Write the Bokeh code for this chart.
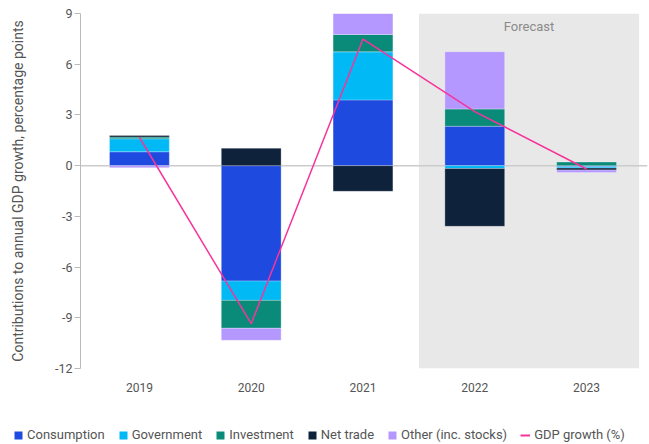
from bokeh.plotting import figure
from bokeh.models import (Range1d, FixedTicker, BoxAnnotation, Span, Legend,
                          LegendItem, ColumnDataSource, Label)
from bokeh.embed import file_html
from bokeh.resources import INLINE

# ---------------- data ----------------
years = ["2019", "2020", "2021", "2022", "2023"]
consumption = [0.82, -6.83, 3.89, 2.33, -0.06]
government = [0.77, -1.14, 2.84, -0.17, -0.08]
investment = [0.10, -1.65, 1.03, 1.02, 0.21]
net_trade = [0.10, 1.03, -1.52, -3.42, -0.12]
other = [-0.12, -0.71, 1.24, 3.39, -0.15]
gdp_growth = [1.68, -9.35, 7.49, 3.20, -0.20]

series_names = ["Consumption", "Government", "Investment", "Net trade", "Other (inc. stocks)"]
series_colors = ["#1f4ae0", "#00b9f5", "#0a8b79", "#0e233b", "#b598ff"]
gdp_name = "GDP growth (%)"
gdp_color = "#f7339c"

y_ticks = [-12, -9, -6, -3, 0, 3, 6, 9]
y_tick_labels = ["-12", "-9", "-6", "-3", "0", "3", "6", "9"]
forecast_years = ["2022", "2023"]
forecast_label = "Forecast"
y_label = "Contributions to annual GDP growth, percentage points"

# ---------------- figure ----------------
FONT = "Roboto"
TXT = "#555555"

p = figure(width=649, height=400, output_backend="svg", toolbar_location=None,
           x_range=Range1d(-0.527, 4.545), y_range=Range1d(-12, 9),
           min_border_left=80, min_border_right=2, min_border_top=13,
           min_border_bottom=32)
p.outline_line_color = None
p.xgrid.visible = False
p.ygrid.visible = False
p.background_fill_color = "white"

xs = list(range(len(years)))

# forecast shading
fl = years.index(forecast_years[0]) - 0.5
fr = years.index(forecast_years[-1]) + 0.47
box = BoxAnnotation(left=fl, right=fr, fill_color="#e8e8e8", fill_alpha=1.0,
                    line_color=None, level="underlay")
p.add_layout(box)
zero = Span(location=0, dimension="width", line_color="#cccccc", line_width=1.5,
            level="underlay")
p.add_layout(zero)

p.add_layout(Label(x=(fl + fr) / 2, y=y_ticks[-1], y_offset=-13, text=forecast_label,
                   text_align="center", text_baseline="middle",
                   text_font=FONT, text_font_size="13px", text_color="#8a8a8a"))

# stacked bars
pos = [0.0] * len(years)
neg = [0.0] * len(years)
bar_kw = dict(line_color="white", line_alpha=0.35, line_width=0.8)
sources = []
for name, color, vals in zip(series_names, series_colors,
                             [consumption, government, investment, net_trade, other]):
    bottoms, tops = [], []
    for i, v in enumerate(vals):
        if v >= 0:
            bottoms.append(pos[i]); tops.append(pos[i] + v); pos[i] += v
        else:
            bottoms.append(neg[i]); tops.append(neg[i] + v); neg[i] += v
    src = ColumnDataSource(dict(x=xs, bottom=bottoms, top=tops))
    sources.append(src)
    p.vbar(x="x", bottom="bottom", top="top", width=0.535, source=src,
           fill_color=color, **bar_kw)

gdp_src = ColumnDataSource(dict(x=xs, y=gdp_growth))
p.line("x", "y", source=gdp_src, line_color=gdp_color, line_width=1.5)

# axes
p.yaxis.ticker = FixedTicker(ticks=y_ticks)
p.yaxis.major_label_overrides = {t: l for t, l in zip(y_ticks, y_tick_labels)}
p.yaxis.minor_tick_line_color = None
p.yaxis.major_tick_out = 6
p.yaxis.major_tick_in = 0
p.yaxis.axis_line_color = "#bbbbbb"
p.yaxis.major_tick_line_color = "#bbbbbb"
p.yaxis.major_label_text_font = FONT
p.yaxis.major_label_text_font_size = "12.5px"
p.yaxis.major_label_text_color = TXT
p.yaxis.major_label_standoff = 2
p.yaxis.axis_label = y_label
p.yaxis.axis_label_text_font = FONT
p.yaxis.axis_label_text_font_size = "14px"
p.yaxis.axis_label_text_font_style = "normal"
p.yaxis.axis_label_text_color = TXT
p.yaxis.axis_label_standoff = 26

p.xaxis.ticker = FixedTicker(ticks=xs)
p.xaxis.major_label_overrides = {i: y for i, y in zip(xs, years)}
p.xaxis.minor_tick_line_color = None
p.xaxis.major_tick_line_color = None
p.xaxis.axis_line_color = None
p.xaxis.major_label_text_font = FONT
p.xaxis.major_label_text_font_size = "12px"
p.xaxis.major_label_text_color = TXT
p.xaxis.major_label_standoff = 8

# ---------------- legend strip (same sources, data kept out of view) ----------------
lg = figure(width=649, height=44, output_backend="svg", toolbar_location=None,
            x_range=Range1d(0, 1), y_range=Range1d(1000, 1001),
            x_axis_location=None, y_axis_location=None,
            min_border_left=0, min_border_right=0, min_border_top=0,
            min_border_bottom=0)
lg.outline_line_color = None
lg.xgrid.visible = False
lg.ygrid.visible = False

items = []
for name, color, src in zip(series_names, series_colors, sources):
    r = lg.vbar(x="x", bottom="bottom", top="top", width=0.5, source=src,
                fill_color=color, line_color=None)
    items.append(LegendItem(label=name, renderers=[r]))
r = lg.line("x", "y", source=gdp_src, line_color=gdp_color, line_width=2)
items.append(LegendItem(label=gdp_name, renderers=[r]))

legend = Legend(items=items, orientation="horizontal", location=(13, 2),
                padding=0, margin=0, spacing=13, label_standoff=4,
                glyph_width=10, glyph_height=10, label_height=14,
                border_line_color=None, background_fill_alpha=0,
                label_text_font=FONT, label_text_font_size="13px",
                label_text_color=TXT)
lg.add_layout(legend)

open("out.html", "w").write(file_html([p, lg], INLINE))
